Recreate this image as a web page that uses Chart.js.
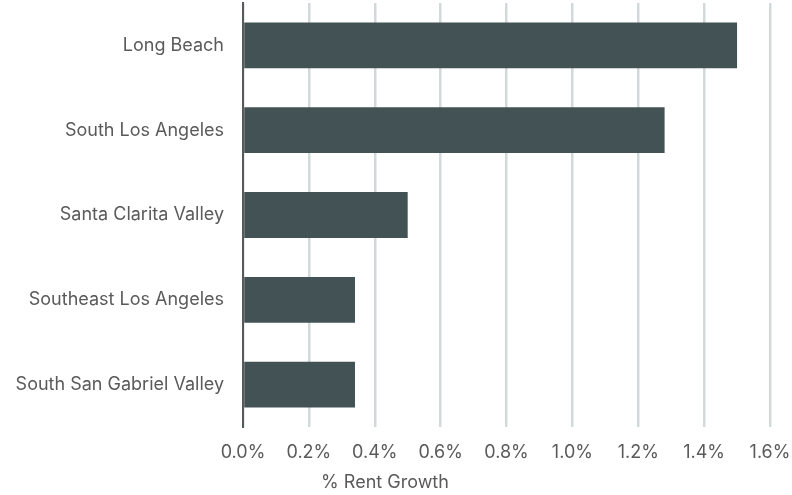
<!DOCTYPE html>
<html>
<head>
<meta charset="utf-8">
<script src="https://cdn.jsdelivr.net/npm/chart.js@4.4.0/dist/chart.umd.min.js"></script>
<style>
    html, body { margin: 0; padding: 0; background: #fff; }
    #wrap { width: 792px; height: 495px; position: relative; }
</style>
</head>
<body>
<div id="wrap"><canvas id="rentChart"></canvas></div>
<script>
// submarkets, top to bottom
const submarkets = ['Long Beach', 'South Los Angeles', 'Santa Clarita Valley', 'Southeast Los Angeles', 'South San Gabriel Valley'];
// annual rent growth, percent
const rentGrowth = [1.50, 1.28, 0.50, 0.34, 0.34];
const xTicks = [0, 0.2, 0.4, 0.6, 0.8, 1.0, 1.2, 1.4, 1.6];
const xTitle = '% Rent Growth';

const barColor  = '#435255';
const gridColor = '#d2d9db';
const textColor = '#5a5a5a';
const fontFamily = 'Inter, "Open Sans", sans-serif';

// axis title sits left of the plot centre in the original, so draw it ourselves
const xTitlePlugin = {
    id: 'xTitle',
    afterDraw(chart) {
        const ctx = chart.ctx;
        ctx.save();
        ctx.font = '18px ' + fontFamily;
        ctx.fillStyle = textColor;
        ctx.textAlign = 'center';
        ctx.textBaseline = 'middle';
        ctx.fillText(xTitle, 385, 483);
        ctx.restore();
    },
};

new Chart(document.getElementById('rentChart'), {
    type: 'bar',
    data: {
        labels: submarkets,
        datasets: [{
            data: rentGrowth,
            backgroundColor: barColor,
            borderWidth: 0,
            barPercentage: 0.54,
            categoryPercentage: 1.0,
        }],
    },
    options: {
        indexAxis: 'y',
        responsive: true,
        maintainAspectRatio: false,
        animation: false,
        layout: { padding: { top: 3, right: 0, left: 0, bottom: 0 } },
        scales: {
            x: {
                min: 0,
                max: 1.6,
                afterBuildTicks: (axis) => { axis.ticks = xTicks.map(v => ({ value: v })); },
                // pin the axis box so the plot area lines up with the reference
                afterFit: (axis) => {
                    axis.height = 68;
                    axis.paddingLeft = 0;
                    axis.paddingRight = 22;
                    axis.paddingTop = 0;
                    axis.paddingBottom = 0;
                },
                grid: { color: gridColor, lineWidth: 2.5, drawTicks: false },
                border: { display: false },
                ticks: {
                    padding: 15,
                    color: textColor,
                    font: { size: 18, family: fontFamily },
                    callback: (v) => Number(v).toFixed(1) + '%',
                },
            },
            y: {
                afterFit: (axis) => {
                    axis.width = 243;
                    axis.paddingTop = 0;
                    axis.paddingBottom = 0;
                },
                grid: { display: false, drawTicks: false },
                border: { display: true, color: '#555b5c', width: 2 },
                ticks: {
                    padding: 19,
                    color: textColor,
                    font: { size: 18, family: fontFamily },
                },
            },
        },
        plugins: {
            legend: { display: false },
            tooltip: { enabled: false },
        },
    },
    plugins: [xTitlePlugin],
});
</script>
</body>
</html>
